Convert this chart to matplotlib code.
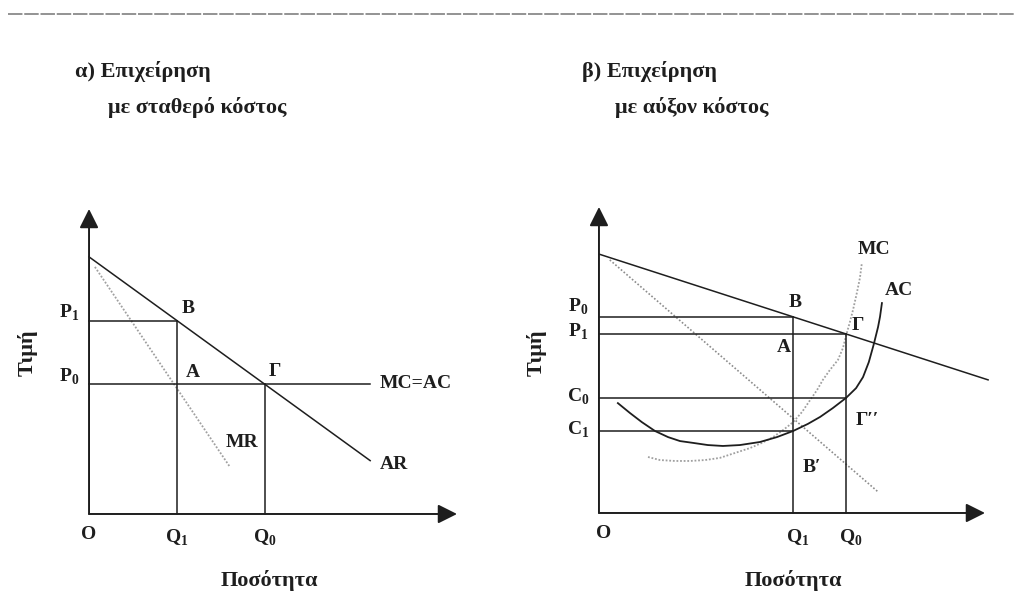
import matplotlib
matplotlib.use("Agg")
import matplotlib.pyplot as plt
from matplotlib.lines import Line2D

plt.rcParams['font.family'] = ['Liberation Serif', 'DejaVu Serif']
plt.rcParams['mathtext.fontset'] = 'custom'
plt.rcParams['mathtext.rm'] = 'Liberation Serif'
plt.rcParams['mathtext.bf'] = 'Liberation Serif:bold'

# --- α) σταθερό κόστος ---
a_q1, a_q0 = 2.39, 4.78
a_p1, a_p0 = 6.34, 4.26
a_ar_q = [0, 7.64]
a_ar_p = [8.43, 1.75]
a_mr_q = [0.16, 3.83]
a_mr_p = [8.10, 1.54]
a_mc_q = [0, 7.64]

# --- β) αύξον κόστος ---
b_q1, b_q0 = 5.03, 6.40
b_p0, b_p1 = 6.41, 5.85
b_c0, b_c1 = 3.76, 2.68
b_ar_q = [0, 10.08]
b_ar_p = [8.46, 4.35]
b_mr_q = [0.28, 7.23]
b_mr_p = [8.27, 0.69]
b_ac_q = [0.49, 0.80, 1.11, 1.45, 1.79, 2.10, 2.44, 2.82, 3.21, 3.65, 4.17, 4.61,
          5.03, 5.41, 5.73, 6.06, 6.40, 6.66, 6.84, 6.99, 7.12, 7.23, 7.28, 7.33]
b_ac_p = [3.59, 3.27, 2.97, 2.68, 2.48, 2.35, 2.29, 2.22, 2.19, 2.22, 2.32, 2.48,
          2.68, 2.91, 3.14, 3.43, 3.76, 4.08, 4.44, 4.93, 5.52, 6.08, 6.41, 6.86]
b_mc_q = [1.27, 1.58, 1.97, 2.36, 2.75, 3.13, 3.52, 3.91, 4.22, 4.51, 4.77, 5.03, 5.26,
          5.47, 5.65, 5.80, 5.98, 6.19, 6.32, 6.42, 6.50, 6.58, 6.68, 6.76, 6.81]
b_mc_p = [1.83, 1.73, 1.70, 1.70, 1.73, 1.80, 1.96, 2.12, 2.29, 2.48, 2.71, 2.97, 3.30,
          3.69, 4.02, 4.35, 4.67, 5.00, 5.39, 5.88, 6.24, 6.63, 7.19, 7.68, 8.17]

ink = '#1e1e1e'
dots = '#8c8c8c'
lw = 1.1
fs = 14

fig = plt.figure(figsize=(10.14, 5.91), dpi=100)

# gray rule at the top of the page
fig.add_artist(Line2D([0.008, 1.0], [0.976, 0.976], color='#8a8a8a', lw=1.3,
                      linestyle=(0, (8, 1))))

ax1 = fig.add_axes([0.0878, 0.1303, 0.3629, 0.5161])
ax2 = fig.add_axes([0.5907, 0.1320, 0.3807, 0.5178])


def axes_arrows(ax):
    for tip in [(0, 10), (10, 0)]:
        ax.annotate('', xy=tip, xytext=(0, 0),
                    arrowprops=dict(arrowstyle='-|>', color=ink, lw=1.4,
                                    mutation_scale=29, shrinkA=0, shrinkB=0))
    ax.set_xlim(0, 10)
    ax.set_ylim(0, 10)
    ax.axis('off')


def line(ax, x, y, **kw):
    opts = dict(color=ink, lw=lw, clip_on=False, solid_joinstyle='round')
    opts.update(kw)
    ax.plot(x, y, **opts)


def lab(ax, s, x, y, dx, dy, ha='center', va='center', size=fs):
    ax.annotate(s, (x, y), xytext=(dx, dy), textcoords='offset points',
                ha=ha, va=va, fontsize=size, fontweight='bold', color=ink)


def sub(letter, n):
    return r'$\mathbf{%s}_{\mathbf{%s}}$' % (letter, n)


def axis_names(ax, xx, yx, yy):
    ax.text(xx, -0.219, 'Ποσότητα', transform=ax.transAxes, ha='center',
            va='center', fontsize=16, fontweight='bold', color=ink)
    ax.text(yx, yy, 'Τιμή', transform=ax.transAxes, ha='center',
            va='center', rotation=90, fontsize=16, fontweight='bold', color=ink)


# ---------- α ----------
axes_arrows(ax1)
line(ax1, a_ar_q, a_ar_p)
line(ax1, a_mr_q, a_mr_p, color='#a0a0a0', lw=1.3, linestyle=(0, (1, 1)))
line(ax1, [0, a_q1], [a_p1, a_p1])
line(ax1, [a_q1, a_q1], [0, a_p1])
line(ax1, [a_q0, a_q0], [0, a_p0])
line(ax1, a_mc_q, [a_p0, a_p0])

lab(ax1, sub('P', '1'), 0, a_p1, -14.5, 2, va='baseline')
lab(ax1, sub('P', '0'), 0, a_p0, -14.5, 2, va='baseline')
lab(ax1, 'B', a_q1, a_p1, 8, 9)
lab(ax1, 'A', a_q1, a_p0, 11.5, 8)
lab(ax1, 'Γ', a_q0, a_p0, 7, 9)
lab(ax1, 'MC=AC', a_mc_q[1], a_p0, 7, 0.5, ha='left')
lab(ax1, 'MR', a_mr_q[1], a_mr_p[1], 8.5, 18)
lab(ax1, 'AR', a_ar_q[1], a_ar_p[1], 7, -3, ha='left')
lab(ax1, 'O', 0, 0, 0, -15)
lab(ax1, sub('Q', '1'), a_q1, 0, 0, -17)
lab(ax1, sub('Q', '0'), a_q0, 0, 0, -17)
axis_names(ax1, 0.49, -0.166, 0.528)

# ---------- β ----------
axes_arrows(ax2)
line(ax2, b_ar_q, b_ar_p)
line(ax2, b_mr_q, b_mr_p, color=dots, lw=1.2, linestyle=(0, (1, 1.2)))
line(ax2, b_mc_q, b_mc_p, color='#a0a0a0', lw=1.3, linestyle=(0, (1, 1)))
line(ax2, b_ac_q, b_ac_p, lw=1.3)
line(ax2, [0, b_q1], [b_p0, b_p0])
line(ax2, [0, b_q0], [b_p1, b_p1])
line(ax2, [0, b_q0], [b_c0, b_c0])
line(ax2, [0, b_q1], [b_c1, b_c1])
line(ax2, [b_q1, b_q1], [0, b_p0])
line(ax2, [b_q0, b_q0], [0, b_p1])

lab(ax2, sub('P', '0'), 0, b_p0, -15, 4, va='baseline')
lab(ax2, sub('P', '1'), 0, b_p1, -15, -2, va='baseline')
lab(ax2, sub('C', '0'), 0, b_c0, -15, -3, va='baseline')
lab(ax2, sub('C', '1'), 0, b_c1, -15, -3, va='baseline')
lab(ax2, 'B', b_q1, b_p0, 1.5, 10)
lab(ax2, 'A', b_q1, b_p1, -7, -10)
lab(ax2, 'Γ', b_q0, b_p1, 8.5, 6)
lab(ax2, 'Γ′′', b_q0, b_c0, 15, -16)
lab(ax2, 'B′', b_q1, b_c1, 13.5, -26)
lab(ax2, 'MC', b_mc_q[-1], b_mc_p[-1], 9, 10)
lab(ax2, 'AC', b_ac_q[-1], b_ac_p[-1], 12, 9)
lab(ax2, 'AR', b_ar_q[1], b_ar_p[1], 3, -16)
lab(ax2, 'O', 0, 0, 3.5, -14.5)
lab(ax2, sub('Q', '1'), b_q1, 0, 3.5, -18)
lab(ax2, sub('Q', '0'), b_q0, 0, 3.5, -18)
axis_names(ax2, 0.503, -0.161, 0.523)

# titles
fig.text(75 / 1014, 1 - 72 / 591, 'α) Επιχείρηση', ha='left', va='center',
         fontsize=16, fontweight='bold', color=ink)
fig.text(108 / 1014, 1 - 108 / 591, 'με σταθερό κόστος', ha='left', va='center',
         fontsize=16, fontweight='bold', color=ink)
fig.text(582 / 1014, 1 - 72 / 591, 'β) Επιχείρηση', ha='left', va='center',
         fontsize=16, fontweight='bold', color=ink)
fig.text(615 / 1014, 1 - 108 / 591, 'με αύξον κόστος', ha='left', va='center',
         fontsize=16, fontweight='bold', color=ink)

fig.savefig('out.png', dpi=100)
